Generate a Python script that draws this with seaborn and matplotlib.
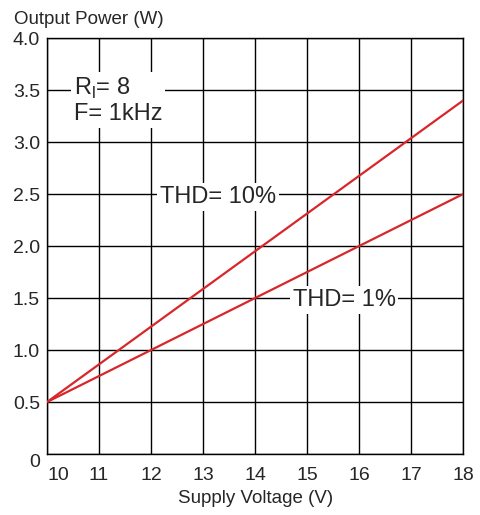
import pandas as pd
import matplotlib
matplotlib.use('Agg')
import matplotlib.pyplot as plt
import seaborn as sns

# values
voltage = [10, 14, 18]
thd_10 = [0.5, 1.95, 3.4]
thd_1 = [0.5, 1.5, 2.5]
x_ticks = [10, 11, 12, 13, 14, 15, 16, 17, 18]
y_ticks = [0, 0.5, 1.0, 1.5, 2.0, 2.5, 3.0, 3.5, 4.0]
y_labels = ['0', '0.5', '1.0', '1.5', '2.0', '2.5', '3.0', '3.5', '4.0']

df = pd.DataFrame({
    'voltage': voltage * 2,
    'power': thd_10 + thd_1,
    'curve': ['THD= 10%'] * len(voltage) + ['THD= 1%'] * len(voltage),
})

sns.set_style('white')
plt.rcParams['font.family'] = ['Liberation Sans', 'DejaVu Sans']
plt.rcParams['mathtext.fontset'] = 'custom'
plt.rcParams['mathtext.rm'] = 'Liberation Sans'

fig = plt.figure(figsize=(4.8, 5.15), dpi=100)
ax = fig.add_axes([0.098, 0.1184, 0.867, 0.8078])

red = '#d8262a'
sns.lineplot(data=df, x='voltage', y='power', hue='curve',
             palette={'THD= 10%': red, 'THD= 1%': red},
             linewidth=1.6, legend=False, ax=ax, zorder=3)

ax.set_xlim(10, 18)
ax.set_ylim(0, 4.0)
ax.set_xticks(x_ticks)
ax.set_yticks(y_ticks)
ax.set_xticklabels([str(t) for t in x_ticks], fontsize=14)
ax.set_yticklabels(y_labels, fontsize=14)
ax.tick_params(length=0)
ax.tick_params(axis='x', pad=9)
ax.tick_params(axis='y', pad=5)
ax.xaxis.get_majorticklabels()[0].set_horizontalalignment('left')
ax.yaxis.get_majorticklabels()[0].set_verticalalignment('top')
ax.grid(True, color='black', linewidth=1.0)
ax.set_axisbelow(True)
for s in ax.spines.values():
    s.set_color('black')
    s.set_linewidth(1.0)

ax.set_xlabel('Supply Voltage (V)', fontsize=13.5, labelpad=5)
ax.set_ylabel('')
fig.text(0.03, 0.963, 'Output Power (W)', fontsize=13.5, ha='left', va='center')

box = dict(facecolor='white', edgecolor='none', pad=2)
ax.text(10.52, 3.4, 'R$_\\mathregular{l}$= 8\nF= 1kHz', fontsize=17,
        ha='left', va='center', linespacing=1.15, bbox=box, zorder=4)
ax.text(12.17, 2.47, 'THD= 10%', fontsize=17, ha='left', va='center',
        bbox=box, zorder=4)
ax.text(14.72, 1.48, 'THD= 1%', fontsize=17, ha='left', va='center',
        bbox=box, zorder=4)

fig.savefig('out.png', dpi=100)
